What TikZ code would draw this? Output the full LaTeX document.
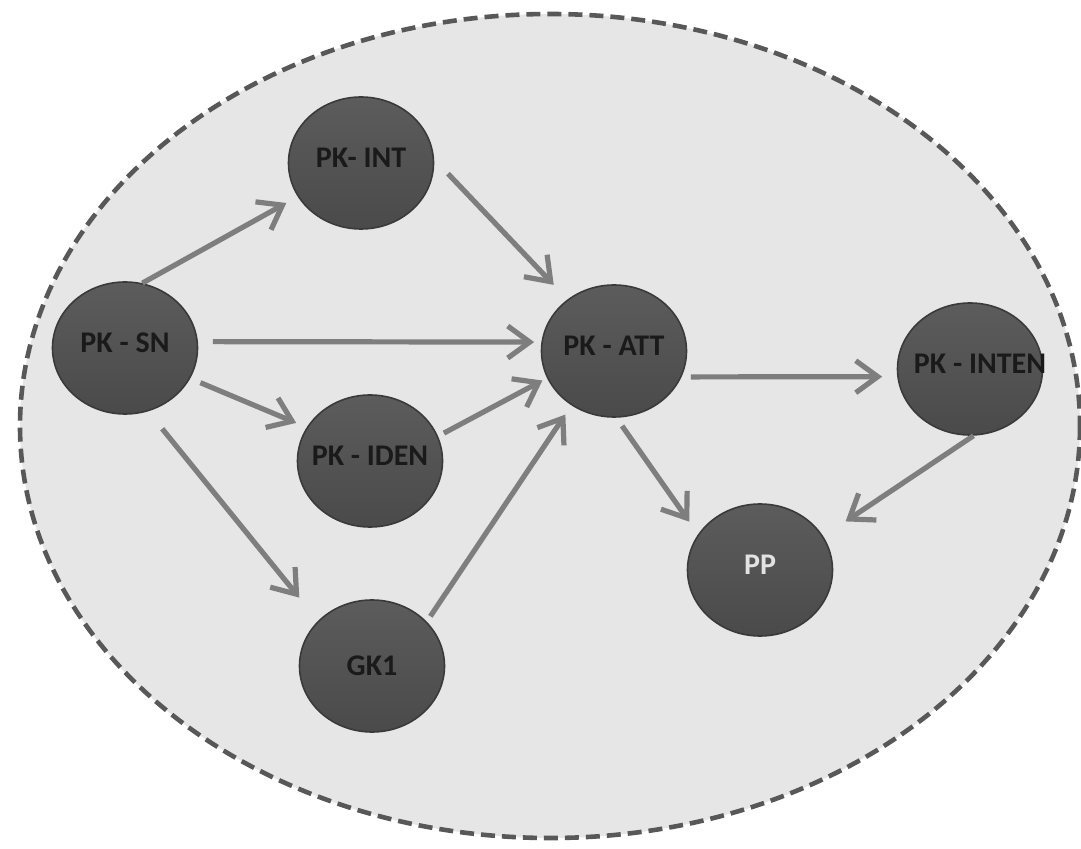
\documentclass[tikz,border=0pt]{standalone}
\usepackage{fontspec}
\setmainfont{Carlito}
\usetikzlibrary{arrows.meta,shapes.geometric}
\definecolor{bgfill}{HTML}{E6E6E6}
\definecolor{dashcol}{HTML}{585858}
\definecolor{balltop}{HTML}{5C5C5C}
\definecolor{ballbot}{HTML}{4A4A4A}
\definecolor{ballrim}{HTML}{3A3A3A}
\definecolor{labeldark}{HTML}{1A1A1A}
\definecolor{labellight}{HTML}{E2E2E2}
\definecolor{arrowcol}{HTML}{7E7E7E}
\newcommand{\ballText}[1]{\makebox[0pt]{#1}}
\begin{document}
\begin{tikzpicture}[x=0.5pt,y=-0.5pt,
  ball/.style={ellipse, minimum width=72.5pt, minimum height=66pt, inner sep=0pt,
    top color=balltop, bottom color=ballbot, draw=ballrim, line width=0.8pt,
    font=\bfseries\fontsize{15}{18}\selectfont, text=labeldark,
    text height=10pt, text depth=5.5pt},
  conn/.style={draw=arrowcol, line width=2.6pt,
    -{Straight Barb[length=11pt,width=16pt]}}]
\useasboundingbox (0,0) rectangle (1081,849);
\fill[white] (0,0) rectangle (1081,849);
\draw[fill=bgfill, draw=dashcol, line width=2.3pt, dash pattern=on 7pt off 3.5pt]
  (550,426) ellipse [x radius=530, y radius=412];

\node[ball] (PKINT)   at (361,163) {\ballText{PK- INT}};
\node[ball] (PKSN)    at (125,348) {\ballText{PK - SN}};
\node[ball] (PKATT)   at (614,351) {\ballText{PK - ATT}};
\node[ball] (PKINTEN) at (970,369) {\ballText{\hspace{10pt}PK - INTEN}};
\node[ball] (PKIDEN)  at (370,461) {\ballText{PK - IDEN}};
\node[ball, text depth=0.5pt] (GK1) at (372,666) {\ballText{GK1}};
\node[ball, text=labellight] (PP) at (760,570) {\ballText{PP}};

\draw[conn, shorten >=6.5pt] (PKSN.75) -- (PKINT.208);
\draw[conn, shorten <=10pt, shorten >=10pt] (PKINT.3) -- (PKATT.132);
\draw[conn, shorten <=7.4pt, shorten >=3.6pt] (PKSN.5) -- (PKATT.173);
\draw[conn, shorten <=5.5pt, shorten >=5.7pt] (PKSN.-25) -- (PKIDEN.152);
\draw[conn, shorten <=3.3pt, shorten >=2.6pt] (PKIDEN.20) -- (PKATT.202);
\draw[conn, shorten <=3.2pt, shorten >=5.5pt] (GK1.39) -- (PKATT.232);
\draw[conn, shorten <=11.2pt, shorten >=14.9pt] (PKSN.-70) -- (GK1.140);
\draw[conn, shorten <=4.7pt, shorten >=7.5pt] (PKATT.-21) -- (PKINTEN.186);
\draw[conn, shorten <=5pt, shorten >=7.7pt] (PKATT.-88) -- (PP.150);
\draw[conn, shorten >=13.4pt] (PKINTEN.-87) -- (PP.28);
\end{tikzpicture}
\end{document}
